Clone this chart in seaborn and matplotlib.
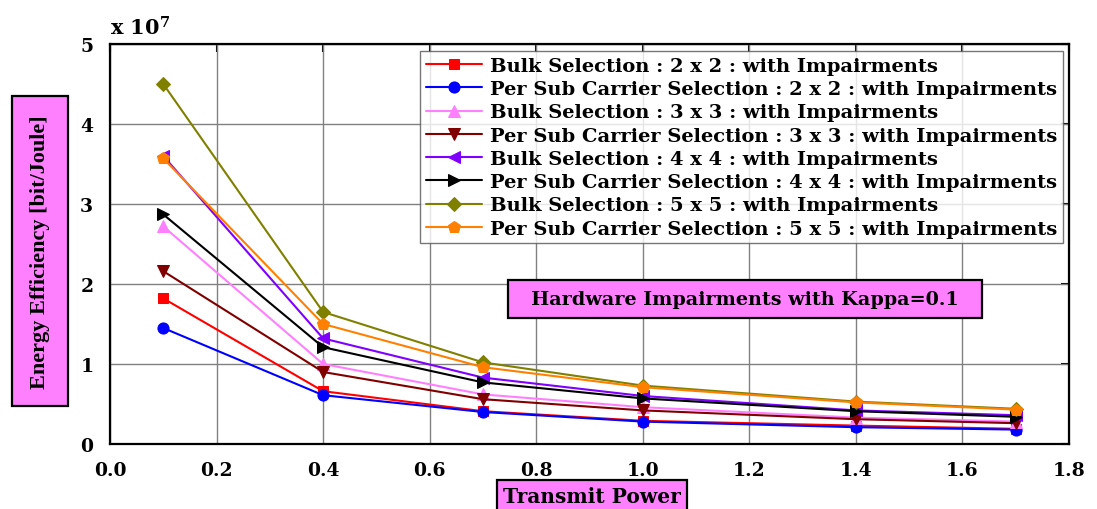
import matplotlib
matplotlib.use("Agg")
import matplotlib.pyplot as plt
import seaborn as sns
import pandas as pd

# Transmit power values (x axis)
power = [0.1, 0.4, 0.7, 1.0, 1.4, 1.7]

# Energy efficiency values, in units of 1e7 bit/Joule
bulk_2x2 = [1.82, 0.66, 0.41, 0.29, 0.23, 0.19]
sub_2x2 = [1.45, 0.61, 0.40, 0.28, 0.21, 0.18]
bulk_3x3 = [2.72, 1.00, 0.62, 0.46, 0.33, 0.28]
sub_3x3 = [2.16, 0.90, 0.56, 0.42, 0.31, 0.26]
bulk_4x4 = [3.60, 1.32, 0.83, 0.60, 0.42, 0.36]
sub_4x4 = [2.87, 1.21, 0.77, 0.57, 0.41, 0.34]
bulk_5x5 = [4.50, 1.65, 1.02, 0.73, 0.53, 0.44]
sub_5x5 = [3.57, 1.50, 0.96, 0.71, 0.52, 0.43]

labels = [
    "Bulk Selection : 2 x 2 : with Impairments",
    "Per Sub Carrier Selection : 2 x 2 : with Impairments",
    "Bulk Selection : 3 x 3 : with Impairments",
    "Per Sub Carrier Selection : 3 x 3 : with Impairments",
    "Bulk Selection : 4 x 4 : with Impairments",
    "Per Sub Carrier Selection : 4 x 4 : with Impairments",
    "Bulk Selection : 5 x 5 : with Impairments",
    "Per Sub Carrier Selection : 5 x 5 : with Impairments",
]
series = [bulk_2x2, sub_2x2, bulk_3x3, sub_3x3, bulk_4x4, sub_4x4, bulk_5x5, sub_5x5]
colors = ["#ff0000", "#0000ff", "#ff80ff", "#800000",
          "#8000ff", "#000000", "#808000", "#ff8000"]
markers = ["s", "o", "^", "v", "<", ">", "D", "p"]
msizes = [7, 8, 8, 8, 8, 8, 7, 9]

rows = []
for lab, vals in zip(labels, series):
    for p, v in zip(power, vals):
        rows.append({"power": p, "ee": v, "series": lab})
df = pd.DataFrame(rows)

sns.set_style("white")
plt.rcParams["font.family"] = ["DejaVu Serif"]
plt.rcParams["font.weight"] = "bold"
plt.rcParams["mathtext.fontset"] = "dejavuserif"
plt.rcParams["text.color"] = "black"
plt.rcParams["xtick.color"] = "black"
plt.rcParams["ytick.color"] = "black"

fig = plt.figure(figsize=(10.97, 5.10), dpi=100)
ax = fig.add_axes([110 / 1097, 65 / 510, 959 / 1097, 400 / 510])

for lab, col, mk, ms in zip(labels, colors, markers, msizes):
    sns.lineplot(data=df[df["series"] == lab], x="power", y="ee", ax=ax,
                 color=col, marker=mk, markersize=ms, markeredgecolor=col,
                 linewidth=1.5, label=lab)

ax.set_xlim(0, 1.8)
ax.set_ylim(0, 5)
xt = [0.0, 0.2, 0.4, 0.6, 0.8, 1.0, 1.2, 1.4, 1.6, 1.8]
ax.set_xticks(xt)
ax.set_xticklabels([f"{t:.1f}" for t in xt])
ax.set_yticks([0, 1, 2, 3, 4, 5])
ax.grid(True, color="#808080", linewidth=1.0)
for s in ax.spines.values():
    s.set_color("black")
    s.set_linewidth(1.6)
ax.tick_params(axis="both", labelsize=13.5, direction="out", length=6,
               width=1.5, pad=6, colors="black")
for lab in ax.get_xticklabels() + ax.get_yticklabels():
    lab.set_fontweight("bold")

# inward ticks on top and right
top = ax.secondary_xaxis("top")
top.set_xticks(xt)
top.tick_params(direction="in", length=6, width=1.5, labeltop=False)
right = ax.secondary_yaxis("right")
right.set_yticks([0, 1, 2, 3, 4, 5])
right.tick_params(direction="in", length=6, width=1.5, labelright=False)

ax.set_xlabel("")
ax.set_ylabel("")
fig.text(110 / 1097, 1 - 28 / 510, r"$\mathbf{x\ 10^{7}}$", fontsize=15,
         va="center", ha="left")

box = dict(boxstyle="square,pad=0.3", facecolor="#ff80ff", edgecolor="black",
           linewidth=1.6)
fig.text(592 / 1097, 1 - 497 / 510, "Transmit Power", fontsize=14.5,
         fontweight="bold", ha="center", va="center", bbox=box)
fig.text(40 / 1097, 1 - 252 / 510, "Energy Efficiency [bit/Joule]",
         fontsize=16, family="Liberation Serif", fontweight="bold",
         ha="center", va="center", rotation=90,
         bbox=dict(boxstyle="square,pad=0.8", facecolor="#ff80ff",
                   edgecolor="black", linewidth=1.6))
fig.text(745 / 1097, 1 - 300 / 510, "  Hardware Impairments with Kappa=0.1  ",
         fontsize=13.8, fontweight="bold", ha="center", va="center",
         bbox=dict(boxstyle="square,pad=0.5", facecolor="#ff80ff",
                   edgecolor="black", linewidth=1.6))

leg = ax.legend(loc="upper right", bbox_to_anchor=(0.9937, 0.9825),
                borderaxespad=0, frameon=True, fancybox=False,
                edgecolor="#555555", handlelength=2.9, handletextpad=0.4,
                borderpad=0.3, labelspacing=0.27,
                prop={"weight": "bold", "size": 14})
leg.get_frame().set_linewidth(1.0)

fig.savefig("out.png", dpi=100)
